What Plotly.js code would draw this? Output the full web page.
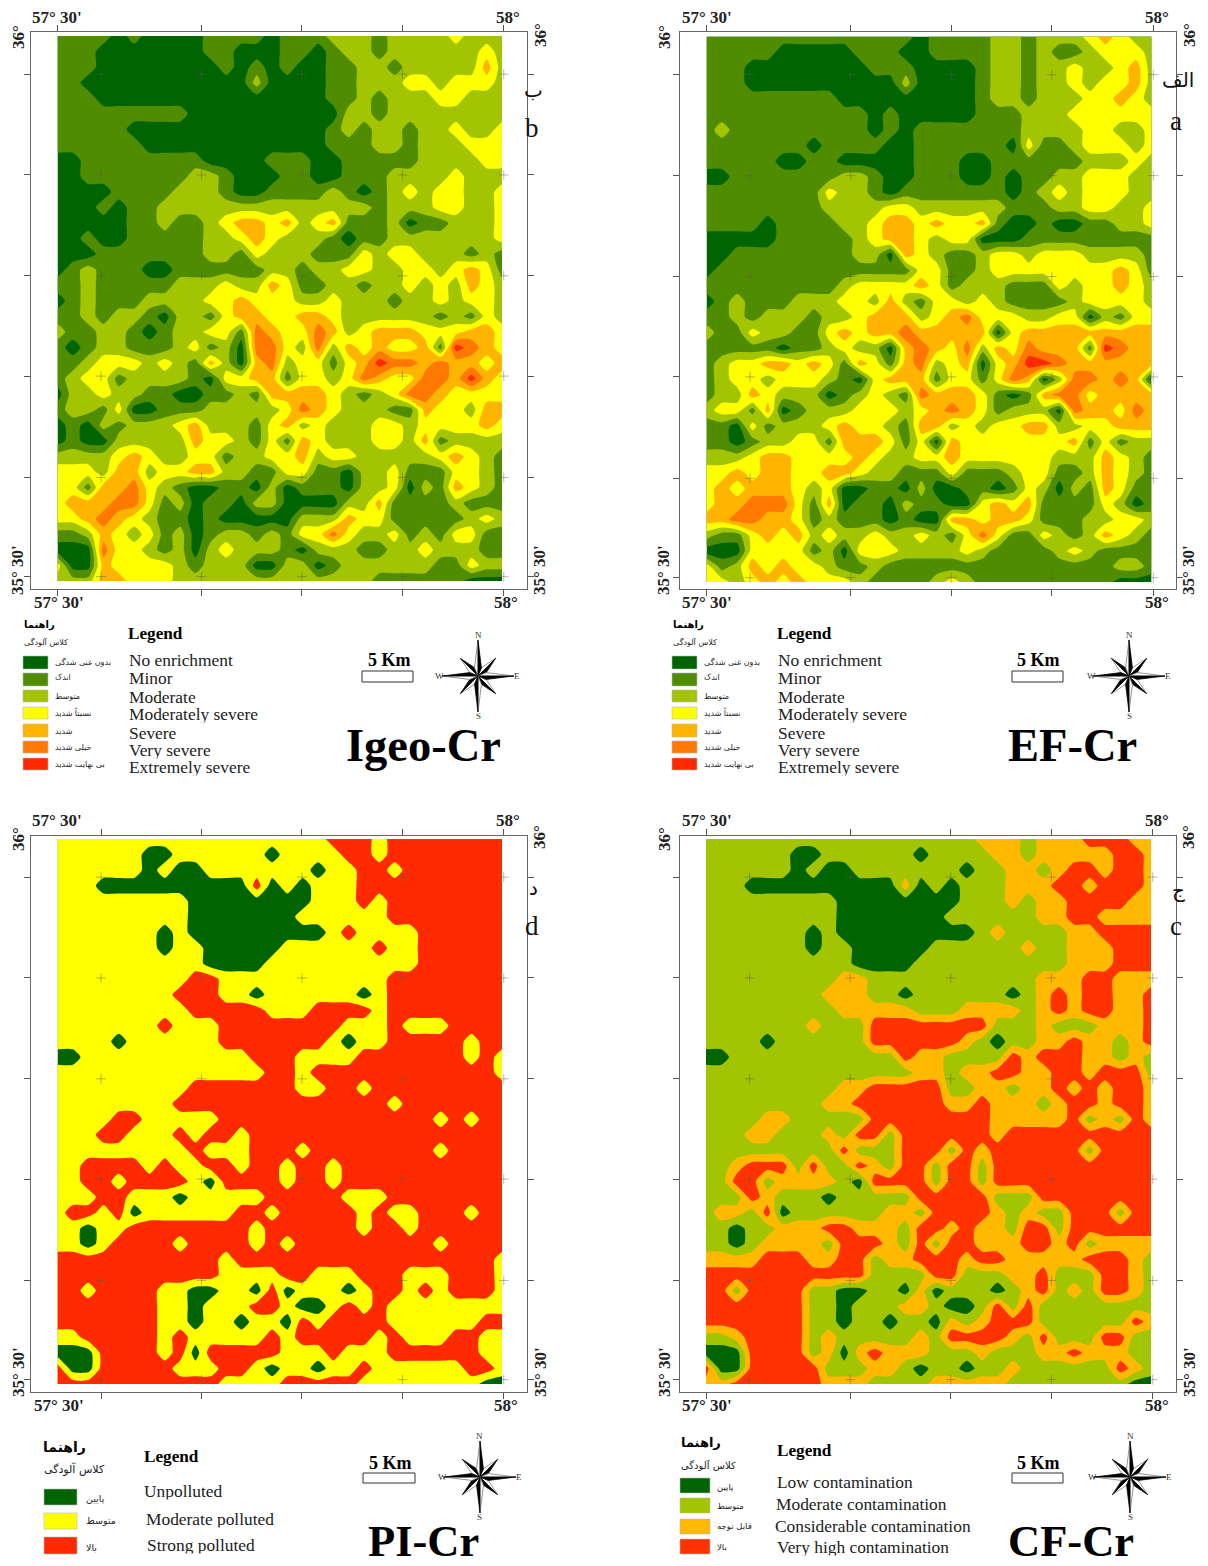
<!DOCTYPE html>
<html><head><meta charset="utf-8">
<script src="https://cdn.plot.ly/plotly-3.0.1.min.js"></script>
<style>html,body{margin:0;padding:0;background:#fff}</style></head>
<body><div id="chart" style="width:1208px;height:1566px"></div>
<script>
const crRows = [
"2222121111 2222122244 4244456544","2221110011 2211022124 4244444564","2221110100 1212121022 4424554574",
"2210000000 0004010122 4446646664","2221111110 0000000122 4244566544","2222222220 0000001113 3244554444",
"2222211010 0000000024 2332446556","2222221011 0000011122 2432444666","1122222222 0000222112 2222444566",
"1122222224 4211122112 2244456444","1111222244 4210222232 0246466446","1112122334 4444333444 4245466446",
"1111122422 3677675672 2241224446","1121022222 3567655420 2244544346","0012222222 3326443222 6466544242",
"1232221122 2222442446 6446646762","2232222234 4655762244 2446464764","1232223344 6676664464 4424564664",
"2232442133 2677667764 4444524264","3224421243 6628766874 6777666776","2123322236 2318863847 6766729876",
"2246663632 7417836626 7988787767","2366244442 0667726636 8766887976","1336432201 2232777763 2368876666",
"2442601222 3344368764 3422766377","1203244467 4442674644 3663666676","1201444437 6642627644 4664724444",
"4444676446 6244667466 4444467642","6665775667 7332266221 4462226642","6627786320 0220402220 3461427642",
"6777886230 2214410015 3722223222","6678765220 2101104347 6622222364","2247656241 2332426686 4362326622",
"0008665240 4644421343 2244644422","6007666632 3441033023 4333322643","4457766644 4333344444 3222222100"];
// EF classes, top row first.
const efRows = [
"1111111111 1111011112 2122234322","1111100000 1110011112 2121123332","1110000000 0111000012 2122322342",
"1110000000 0002000012 2122323342","1111111110 0000000012 2122233432","1111111111 1010000011 1222333333",
"1211111111 1010111111 1222233223","1111111011 1100111111 0311233323","1111100110 0000111001 1111122232",
"0011111112 2100111001 0112233322","1111111132 2101111111 0123233322","1111111122 2233222222 1112233223",
"1111011112 2344343341 0010011223","0000011111 2344323300 0111111111","0011111111 2204321123 3233322221",
"0111111111 1111331123 3333333431","1111111112 3333431222 1113233432","0121112223 3242133232 1111233332",
"1121222122 3444234533 3223302133","2113221134 3445444440 3444444444","1111101123 2204543524 3544416544",
"1233443431 4314523403 4665444444","1233233321 0344413313 5402554540","1224322201 2321544431 0145534444",
"2331401222 3332345431 2220544354","1103122234 3321442323 3442233444","1101223314 4431304333 3333413122",
"2223443333 4322334333 3332224321","3343443344 3221113111 2331124321","3434443230 0110200110 1320214311",
"3445553140 1102110034 3411113201","4455443121 1101004434 4311122332","2113434232 2322321353 1132124321",
"0003333120 3332222321 1112321111","3124343321 1211111111 1111111221","3323434333 2111123211 1111111000"];
// Which class each Cr step falls in for each index.
const igeoClassOfStep = [0,0,1,2,2,2,3,4,5,6];
const cfClassOfStep   = [0,1,1,1,2,3,3,3,3,3];
const piClassOfStep   = [0,1,1,1,2,2,2,2,2,2];

const sevenColors = ["#006400","#4F8C00","#A3C400","#FFFF00","#FFB400","#FF7800","#FF2A00"];
const cfColors = ["#006400","#A3C400","#FFB900","#FF3300"];
const piColors = ["#006400","#FFFF00","#FF2A00"];

const sevenEn = ["No enrichment","Minor","Moderate","Moderately severe","Severe","Very severe","Extremely severe"];
const sevenFa = ["بدون غنی شدگی","اندک","متوسط","نسبتاً شدید","شدید","خیلی شدید","بی نهایت شدید"];
const cfEn = ["Low contamination","Moderate contamination","Considerable contamination","Very high contamination"];
const cfFa = ["پایین","متوسط","قابل توجه","بالا"];
const piEn = ["Unpolluted","Moderate polluted","Strong polluted"];
const piFa = ["پایین","متوسط","بالا"];

const gridLons = [57.549,57.662,57.775,57.888,58.002];
const gridLats = [35.965,35.8725,35.78,35.688,35.595,35.504];

const W=1208,H=1566;
const X=p=>p/W, Y=p=>1-p/H;
const digits=r=>r.replace(/ /g,'').split('').map(Number);
const crField=crRows.map(digits), efField=efRows.map(digits);
const asClass=(f,m)=>f.map(r=>r.map(v=>m[v]));

const serif='"Liberation Serif", serif', fa='"DejaVu Sans", sans-serif';
const panels=[
 {z:asClass(crField,igeoClassOfStep),colors:sevenColors,en:sevenEn,fa:sevenFa,title:'Igeo-Cr',
  map:[57.5,36,502,581],frame:[31,32,527,589],tl:[[57,18],[508,18],[59,603],[506,603],[18,37],[18,570],[540,35],[540,570]],
  side:[['ب',533,90],['b',532,128]],
  tick:1,
  hdr:{fa1:[23,625,10],fa2:[23,642,8],legend:[127,634,17.2]},
  sw:{x0:23,x1:48,ys:[[656,669],[673,686],[690,702],[707,719],[724,737],[741,753],[758,770]]},
  faX:54,faS:8,faY:[662,677,696,712,731,747,764],enX:127.5,enS:17.4,enY:[660,678.5,697,715,733,750.5,767.5],
  km:[389,660,362,671,413,682],rose:[478,676],titleAt:[423,746],titleS:46.5},
 {z:efField,colors:sevenColors,en:sevenEn,fa:sevenFa,title:'EF-Cr',
  map:[706.5,36.5,1151.5,582],frame:[680,32,1176,589],tl:[[707,18],[1157,18],[707,603],[1157,603],[664,37],[664,570],[1189,35],[1189,570]],
  side:[['الف',1178,80],['a',1176,121]],
  tick:1,
  hdr:{fa1:[672,625,10],fa2:[672,642,8],legend:[776,634,17.2]},
  sw:{x0:672,x1:697,ys:[[656,669],[673,686],[690,702],[707,719],[724,737],[741,753],[758,770]]},
  faX:703,faS:8,faY:[662,677,696,712,731,747,764],enX:776.5,enS:17.4,enY:[660,678.5,697,715,733,750.5,767.5],
  km:[1038,660,1012,671,1063,682],rose:[1129,676],titleAt:[1072,746],titleS:46.5},
 {z:asClass(crField,piClassOfStep),colors:piColors,en:piEn,fa:piFa,title:'PI-Cr',
  map:[57.5,839,502,1384],frame:[31,836,527,1392],tl:[[57,820],[508,820],[59,1405],[506,1405],[18,839],[18,1372],[540,837],[540,1372]],
  side:[['د',533,888],['d',532,926]],
  tick:0,
  hdr:{fa1:[42,1447,14],fa2:[43,1469,11],legend:[143,1456,17.2]},
  sw:{x0:44,x1:77,ys:[[1489,1505],[1513,1529],[1537,1554]]},
  faX:85,faS:9.5,faY:[1498,1520,1547],enX:143,enS:17.4,enY:[1491,1519,1545],enXs:[142.5,144.5,145.5],
  km:[390,1463,363,1473,415,1483],rose:[480,1477],titleAt:[423,1541],titleS:44.5,titleH:38},
 {z:asClass(crField,cfClassOfStep),colors:cfColors,en:cfEn,fa:cfFa,title:'CF-Cr',
  map:[706,839,1151,1384],frame:[680,836,1176,1392],tl:[[707,820],[1157,820],[707,1405],[1157,1405],[664,839],[664,1372],[1189,837],[1189,1372]],
  side:[['ج',1178,890],['c',1176,926]],
  tick:1,
  hdr:{fa1:[680,1442,13],fa2:[680,1465,10],legend:[776,1450,17.2]},
  sw:{x0:680,x1:710,ys:[[1478,1493],[1498,1513],[1519,1534],[1539,1554]]},
  faX:716,faS:8.5,faY:[1487,1506,1526,1547],enX:776,enS:17.4,enY:[1482,1504,1526,1547],enXs:[775.5,774.5,773.5,775.5],
  km:[1038,1463,1012,1473,1063,1483],rose:[1130,1477],titleAt:[1071,1541],titleS:44.5,titleH:38}
];

const data=[],shapes=[],annotations=[];
const layout={width:W,height:H,margin:{l:0,r:0,t:0,b:0,pad:0},paper_bgcolor:'#fff',plot_bgcolor:'#fff',showlegend:false,shapes,annotations};
function txt(x,y,t,size,family,o){o=o||{};const a={xref:'paper',yref:'paper',x:X(x),y:Y(y),text:t,showarrow:false,
  font:{family,size,color:o.color||'#000'},xanchor:o.xa||'center',yanchor:'middle',textangle:o.angle||0,align:'left',borderpad:0};
  if(o.h)a.height=o.h;annotations.push(a);}
function poly(pts,fill,line){shapes.push({type:'path',xref:'paper',yref:'paper',layer:'above',
  path:'M'+pts.map(p=>X(p[0])+','+Y(p[1])).join('L')+'Z',fillcolor:fill,line:{color:line,width:0.7}});}
function rose(cx,cy){
  const R=36,r2=25,inner=9;
  const P=(ang,rad)=>[cx+rad*Math.sin(ang),cy-rad*Math.cos(ang)];
  [1,3,5,7,0,2,4,6].forEach(k=>{
    const a=k*Math.PI/4, len=k%2?r2:R;
    const tip=P(a,len), c=[cx,cy], l=P(a-Math.PI/8,inner), rr=P(a+Math.PI/8,inner);
    poly([c,l,tip],'#fff','#666');
    poly([c,tip,rr],'#000','#000');
  });
  txt(cx,cy-41,'N',9,serif,{color:'#333'});txt(cx,cy+40,'S',9,serif,{color:'#333'});
  txt(cx-38,cy,'W',9,serif,{color:'#333'});txt(cx+39,cy,'E',9,serif,{color:'#333'});
}

panels.forEach((p,i)=>{
  const s=i===0?'':String(i+1);
  const [ml,mt,mr,mb]=p.map,[fl,ft,fr,fb]=p.frame;
  const lonOf=px=>57.5+(px-ml)/(mr-ml)*0.5, latOf=py=>36-(py-mt)/(mb-mt)*0.5;
  const nR=p.z.length,nC=p.z[0].length;
  const lon=Array.from({length:nC},(_,k)=>57.5+k*0.5/(nC-1));
  const lat=Array.from({length:nR},(_,k)=>36-k*0.5/(nR-1));
  const N=p.colors.length;
  const cs=[];p.colors.forEach((c,k)=>{cs.push([k/N,c]);cs.push([(k+1)/N,c]);});
  data.push({type:'contour',xaxis:'x'+s,yaxis:'y'+s,x:lon,y:lat,z:p.z,showscale:false,hoverinfo:'skip',
    zauto:false,zmin:-0.5,zmax:N-0.5,colorscale:cs,autocontour:false,
    contours:{coloring:'fill',start:0.5,end:N-1.5,size:1,showlines:false},line:{width:0,smoothing:0.6}});
  const gx=[],gy=[];gridLons.forEach(a=>gridLats.forEach(b=>{gx.push(a);gy.push(b);}));
  data.push({type:'scatter',mode:'markers',xaxis:'x'+s,yaxis:'y'+s,x:gx,y:gy,hoverinfo:'skip',
    marker:{symbol:'cross-thin',size:7,line:{width:0.8,color:'rgba(90,90,90,0.55)'}}});
  const tickLons=p.tick?[57.5].concat(gridLons.slice(1)):gridLons;
  layout['xaxis'+s]={domain:[X(fl),X(fr)],range:[lonOf(fl),lonOf(fr)],anchor:'y'+s,showgrid:false,zeroline:false,
    showline:true,mirror:'allticks',linecolor:'#666',linewidth:1.4,ticks:'outside',ticklen:6,tickwidth:1,tickcolor:'#555',
    tickmode:'array',tickvals:tickLons,showticklabels:false};
  layout['yaxis'+s]={domain:[Y(fb),Y(ft)],range:[latOf(fb),latOf(ft)],anchor:'x'+s,showgrid:false,zeroline:false,
    showline:true,mirror:'allticks',linecolor:'#666',linewidth:1.4,ticks:'outside',ticklen:6,tickwidth:1,tickcolor:'#555',
    tickmode:'array',tickvals:gridLats,showticklabels:false};
  // corner labels
  const labs=["57° 30'","58°","57° 30'","58°","36°","35° 30'","36°","35° 30'"];
  labs.forEach((t,k)=>txt(p.tl[k][0],p.tl[k][1],'<b>'+t+'</b>',17,serif,{angle:k>3?-90:0,color:'#222'}));
  p.side.forEach(a=>{const ar=a[0].charCodeAt(0)>255;txt(a[1],a[2],a[0],ar?20:27,ar?fa:serif,{color:'#111'});});
  // legend
  txt(p.hdr.fa1[0],p.hdr.fa1[1],'<b>راهنما</b>',p.hdr.fa1[2],fa,{xa:'left'});
  txt(p.hdr.fa2[0],p.hdr.fa2[1],'کلاس آلودگی',p.hdr.fa2[2],fa,{xa:'left',color:'#222'});
  txt(p.hdr.legend[0],p.hdr.legend[1],'<b>Legend</b>',p.hdr.legend[2],serif,{xa:'left'});
  p.colors.forEach((c,k)=>{
    shapes.push({type:'rect',xref:'paper',yref:'paper',x0:X(p.sw.x0),x1:X(p.sw.x1),y0:Y(p.sw.ys[k][1]),y1:Y(p.sw.ys[k][0]),
      fillcolor:c,line:{color:'#bbb',width:0.6}});
    txt(p.faX,p.faY[k],p.fa[k],p.faS,fa,{xa:'left',color:'#222'});
    txt(p.enXs?p.enXs[k]:p.enX,p.enY[k],p.en[k],p.enS,serif,{xa:'left',color:'#222',h:16.5});
  });
  // scale bar
  const k=p.km;
  txt(k[0],k[1],'<b>5 Km</b>',18,serif);
  shapes.push({type:'rect',xref:'paper',yref:'paper',x0:X(k[2]),x1:X(k[4]),y0:Y(k[5]),y1:Y(k[3]),fillcolor:'#fff',line:{color:'#333',width:1}});
  rose(p.rose[0],p.rose[1]);
  txt(p.titleAt[0],p.titleAt[1],'<b>'+p.title+'</b>',p.titleS,serif,{h:p.titleH});
});
Plotly.newPlot('chart',data,layout,{staticPlot:true,displayModeBar:false});
</script></body></html>
